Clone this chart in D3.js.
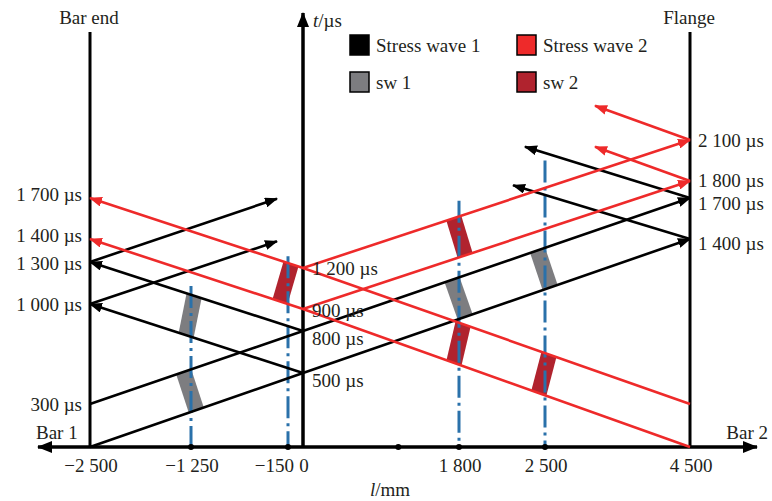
<!DOCTYPE html>
<html>
<head>
<meta charset="utf-8">
<script src="https://cdn.jsdelivr.net/npm/d3@7"></script>
<style>
  body { margin: 0; background: #fff; }
  text { font-family: "Liberation Serif", "Times New Roman", serif; fill: #231f20; }
</style>
</head>
<body>
<div id="chart"></div>
<script>
// Axis ticks (l in mm)
const xTicks = [-2500, -1250, -150, 0, 1800, 2500, 4500];
const xTickLabels = ["\u22122 500", "\u22121 250", "\u2212150", "0", "1 800", "2 500", "4 500"];
const axisDots = [-1250, -150, 1100, 1800, 2500];

// Time marks (t in µs)
const yKnots = [0, 300, 500, 800, 900, 1000, 1200, 1300, 1400, 1700, 1800, 2100, 3000];
const leftTimes = [1700, 1400, 1300, 1000, 300];
const rightTimes = [2100, 1800, 1700, 1400];
const midTimes = [1200, 900, 800, 500];

// Measuring positions (dash-dot lines) and how high they reach
const probeL = [-1250, -150, 1800, 2500];
const probeTop = [1100, 1325, 1680, 1950];

// Stress wave 1 (black) paths, [l, t]
const wave1 = [
    [[-2500, 0], [0, 500], [4500, 1400]],
    [[-2500, 300], [0, 800], [4500, 1700]],
    [[0, 500], [-2500, 1000]],
    [[0, 800], [-2500, 1300]],
    [[-2500, 1000], [-275, 1390]],
    [[-2500, 1300], [-275, 1695]],
    [[4500, 1400], [2240, 1775]],
    [[4500, 1700], [2337, 2050]]
];

// Stress wave 2 (red) paths, [l, t]
const wave2 = [
    [[4500, 0], [0, 900], [-2500, 1400]],
    [[4500, 300], [0, 1200], [-2500, 1700]],
    [[0, 900], [4500, 1800]],
    [[0, 1200], [4500, 2100]],
    [[4500, 1800], [3190, 2050]],
    [[4500, 2100], [3190, 2350]]
];

// Shaded strips: [upper path, l on it, lower path, l on it]
const sw1 = [
    [wave1[1], -1340, wave1[0], -1190],
    [wave1[3], -1215, wave1[2], -1310],
    [wave1[1], 1720, wave1[0], 1850],
    [wave1[1], 2440, wave1[0], 2570]
];
const sw2 = [
    [wave2[1], -120, wave2[0], -240],
    [wave2[3], 1740, wave2[2], 1850],
    [wave2[1], 1833, wave2[0], 1742],
    [wave2[1], 2555, wave2[0], 2450]
];

const legendItems = [
    { name: "Stress wave 1", color: "#000000" },
    { name: "Stress wave 2", color: "#ee2a2a" },
    { name: "sw 1", color: "#7d7d80" },
    { name: "sw 2", color: "#b0232e" }
];

const width = 772, height = 501;
const RED = "#ee2a2a", GRAY = "#7d7d80", DARK = "#b0232e", BLUE = "#2a71aa", INK = "#000";

const svg = d3.select("#chart")
    .append("svg")
    .attr("width", width)
    .attr("height", height);

// Schematic scales (the figure is not drawn to a uniform scale)
const x = d3.scaleLinear()
    .domain(xTicks)
    .range([90, 191, 288, 303, 459, 545, 690]);

const y = d3.scaleLinear()
    .domain(yKnots)
    .range([447, 404, 373, 331, 309, 304, 268, 262, 239, 198, 181, 140, 17]);

const axisY = y(0), axisX = x(0);

// Arrow markers
const defs = svg.append("defs");
function marker(id, color, w, h) {
    defs.append("marker")
        .attr("id", id)
        .attr("viewBox", `0 0 ${w} ${h}`)
        .attr("refX", w - 1)
        .attr("refY", h / 2)
        .attr("markerWidth", w)
        .attr("markerHeight", h)
        .attr("markerUnits", "userSpaceOnUse")
        .attr("orient", "auto-start-reverse")
        .append("path")
        .attr("d", `M0,0L${w},${h / 2}L0,${h}Z`)
        .attr("fill", color);
}
marker("arrBlack", INK, 13, 10);
marker("arrRed", RED, 13, 10);
marker("arrAxis", INK, 15, 12);

// y (pixel) on a path at pixel x
function yAt(path, px) {
    for (let i = 0; i < path.length - 1; i++) {
        const x0 = x(path[i][0]), x1 = x(path[i + 1][0]);
        if ((px - x0) * (px - x1) <= 0) {
            const y0 = y(path[i][1]), y1 = y(path[i + 1][1]);
            return y0 + (px - x0) / (x1 - x0) * (y1 - y0);
        }
    }
    const a = path[0], b = path[1];
    return y(a[1]) + (px - x(a[0])) / (x(b[0]) - x(a[0])) * (y(b[1]) - y(a[1]));
}

// Shaded strips
const hw = 7.5;
function strips(data, color) {
    svg.append("g")
        .selectAll("polygon")
        .data(data)
        .enter().append("polygon")
        .attr("points", d => {
            const xa = x(d[1]), xb = x(d[3]);
            return [
                [xa - hw, yAt(d[0], xa - hw)],
                [xa + hw, yAt(d[0], xa + hw)],
                [xb + hw, yAt(d[2], xb + hw)],
                [xb - hw, yAt(d[2], xb - hw)]
            ].map(p => p.join(",")).join(" ");
        })
        .attr("fill", color);
}
strips(sw1, GRAY);
strips(sw2, DARK);

// Dash-dot measuring lines
svg.append("g")
    .selectAll("line")
    .data(probeL)
    .enter().append("line")
    .attr("x1", d => x(d))
    .attr("x2", d => x(d))
    .attr("y1", (d, i) => y(probeTop[i]))
    .attr("y2", axisY)
    .attr("stroke", BLUE)
    .attr("stroke-width", 3)
    .attr("stroke-dasharray", "22,5,3,5");

// Bar end and flange
svg.append("g")
    .selectAll("line")
    .data([-2500, 4500])
    .enter().append("line")
    .attr("x1", d => x(d))
    .attr("x2", d => x(d))
    .attr("y1", 32)
    .attr("y2", axisY)
    .attr("stroke", INK)
    .attr("stroke-width", 3);

// Axes
svg.append("line")
    .attr("x1", 38).attr("x2", 757)
    .attr("y1", axisY).attr("y2", axisY)
    .attr("stroke", INK)
    .attr("stroke-width", 3.5)
    .attr("marker-start", "url(#arrAxis)")
    .attr("marker-end", "url(#arrAxis)");

svg.append("line")
    .attr("x1", axisX).attr("x2", axisX)
    .attr("y1", axisY).attr("y2", 13)
    .attr("stroke", INK)
    .attr("stroke-width", 3.5)
    .attr("marker-end", "url(#arrAxis)");

// Wave paths
const line = d3.line().x(d => x(d[0])).y(d => y(d[1]));

svg.append("g")
    .selectAll("path")
    .data(wave1)
    .enter().append("path")
    .attr("d", line)
    .attr("fill", "none")
    .attr("stroke", INK)
    .attr("stroke-width", 2.6)
    .attr("marker-end", "url(#arrBlack)");

svg.append("g")
    .selectAll("path")
    .data(wave2)
    .enter().append("path")
    .attr("d", line)
    .attr("fill", "none")
    .attr("stroke", RED)
    .attr("stroke-width", 2.6)
    .attr("marker-end", "url(#arrRed)");

// Dots on the l axis
svg.append("g")
    .selectAll("circle")
    .data(axisDots)
    .enter().append("circle")
    .attr("cx", d => x(d))
    .attr("cy", axisY)
    .attr("r", 3)
    .attr("fill", INK);

// Tick labels
const fs = 19;
const tfmt = t => d3.format(",")(t).replace(",", " ") + " \u00b5s";

svg.append("g")
    .selectAll("text")
    .data(xTicks)
    .enter().append("text")
    .attr("x", d => d === -150 ? x(d) + 6 : x(d) + 1)
    .attr("y", 472)
    .attr("text-anchor", d => d === -150 ? "end" : "middle")
    .style("font-size", fs + "px")
    .text((d, i) => xTickLabels[i]);

// the labels sit a little off their lines in the figure
const leftShift = { 1700: -4, 1400: -4, 1300: 1, 1000: 0, 300: 0 };
svg.append("g")
    .selectAll("text")
    .data(leftTimes)
    .enter().append("text")
    .attr("x", 82)
    .attr("y", d => y(d) + leftShift[d])
    .attr("dy", "0.35em")
    .attr("text-anchor", "end")
    .style("font-size", fs + "px")
    .text(tfmt);

const rightShift = { 2100: 0, 1800: -1, 1700: 5, 1400: 4 };
svg.append("g")
    .selectAll("text")
    .data(rightTimes)
    .enter().append("text")
    .attr("x", 698)
    .attr("y", d => y(d) + rightShift[d])
    .attr("dy", "0.35em")
    .style("font-size", fs + "px")
    .text(tfmt);

const midShift = { 1200: 0, 900: 1, 800: 7, 500: 7 };
svg.append("g")
    .selectAll("text")
    .data(midTimes)
    .enter().append("text")
    .attr("x", 312)
    .attr("y", d => y(d) + midShift[d])
    .attr("dy", "0.35em")
    .style("font-size", fs + "px")
    .text(tfmt);

// Titles around the frame
const labels = [
    { text: "Bar end", x: 89, y: 24, anchor: "middle" },
    { text: "Flange", x: 689, y: 24, anchor: "middle" },
    { text: "Bar 1", x: 36, y: 439, anchor: "start" },
    { text: "Bar 2", x: 768, y: 439, anchor: "end" }
];
svg.append("g")
    .selectAll("text")
    .data(labels)
    .enter().append("text")
    .attr("x", d => d.x)
    .attr("y", d => d.y)
    .attr("text-anchor", d => d.anchor)
    .style("font-size", fs + "px")
    .text(d => d.text);

const tLabel = svg.append("text")
    .attr("x", 313)
    .attr("y", 27)
    .style("font-size", fs + "px");
tLabel.append("tspan").style("font-style", "italic").text("t");
tLabel.append("tspan").text("/\u00b5s");

const lLabel = svg.append("text")
    .attr("x", 390)
    .attr("y", 496)
    .attr("text-anchor", "middle")
    .style("font-size", fs + "px");
lLabel.append("tspan").style("font-style", "italic").text("l");
lLabel.append("tspan").text("/mm");

// Legend
const legend = svg.append("g")
    .selectAll("g")
    .data(legendItems)
    .enter().append("g")
    .attr("transform", (d, i) => `translate(${i % 2 === 0 ? 350 : 517},${i < 2 ? 35 : 72})`);

legend.append("rect")
    .attr("width", 19)
    .attr("height", 20)
    .attr("fill", d => d.color)
    .attr("stroke", INK)
    .attr("stroke-width", 1.5);

legend.append("text")
    .attr("x", 26)
    .attr("y", 17)
    .style("font-size", fs + "px")
    .text(d => d.name);
</script>
</body>
</html>
